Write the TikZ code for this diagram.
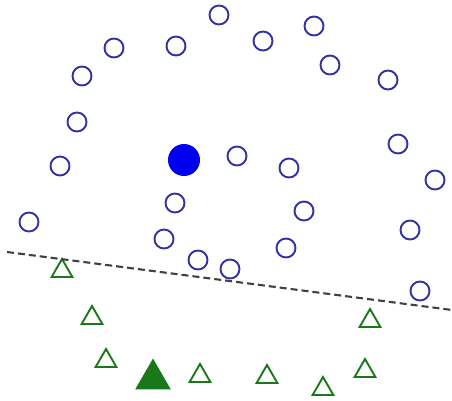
\documentclass[tikz,border=0pt]{standalone}
\usetikzlibrary{shapes.geometric}
\definecolor{ringblue}{RGB}{50,50,165}
\definecolor{dotblue}{RGB}{0,0,240}
\definecolor{trigreen}{RGB}{25,120,25}

\begin{document}
\begin{tikzpicture}[x=1pt, y=-1pt,
  ring/.style={circle, draw=ringblue, line width=1.9pt, inner sep=0pt, minimum size=19pt},
  tri/.style={regular polygon, regular polygon sides=3, draw=trigreen, line width=1.9pt, inner sep=0pt, minimum size=24pt}]
  \useasboundingbox (0,0) rectangle (452,401);

  % class one: open circles
  \node[ring] (c1) at (219,15) {};
  \node[ring] (c2) at (314,26) {};
  \node[ring] (c3) at (114,48) {};
  \node[ring] (c4) at (176,46) {};
  \node[ring] (c5) at (263,41) {};
  \node[ring] (c6) at (330,65) {};
  \node[ring] (c7) at (82,76) {};
  \node[ring] (c8) at (388,80) {};
  \node[ring] (c9) at (77,122) {};
  \node[ring] (c10) at (237,156) {};
  \node[ring] (c11) at (289,168) {};
  \node[ring] (c12) at (398,144) {};
  \node[ring] (c13) at (60,166) {};
  \node[ring] (c14) at (435,180) {};
  \node[ring] (c15) at (175,203) {};
  \node[ring] (c16) at (304,211) {};
  \node[ring] (c17) at (29,222) {};
  \node[ring] (c18) at (410,230) {};
  \node[ring] (c19) at (164,239) {};
  \node[ring] (c20) at (286,248) {};
  \node[ring] (c21) at (198,260) {};
  \node[ring] (c22) at (230,269) {};
  \node[ring] (c23) at (420,291) {};
  \node[circle, fill=dotblue, inner sep=0pt, minimum size=32pt] (cnew) at (184,160) {};

  % class two: triangles
  \node[tri] (t1) at (62,271) {};
  \node[tri] (t2) at (92,318) {};
  \node[tri] (t3) at (106,361) {};
  \node[tri] (t4) at (200,376) {};
  \node[tri] (t5) at (267,377) {};
  \node[tri] (t6) at (323,389) {};
  \node[tri] (t7) at (365,371) {};
  \node[tri] (t8) at (370,321) {};
  \node[regular polygon, regular polygon sides=3, fill=trigreen, inner sep=0pt, minimum size=41pt] (tnew) at (153,379) {};

  % separating line
  \coordinate (sepL) at (7,252);
  \coordinate (sepR) at (452,310);
  \draw[black!75, line width=2.1pt, dash pattern=on 7pt off 4pt] (sepL) -- (sepR);
\end{tikzpicture}
\end{document}
